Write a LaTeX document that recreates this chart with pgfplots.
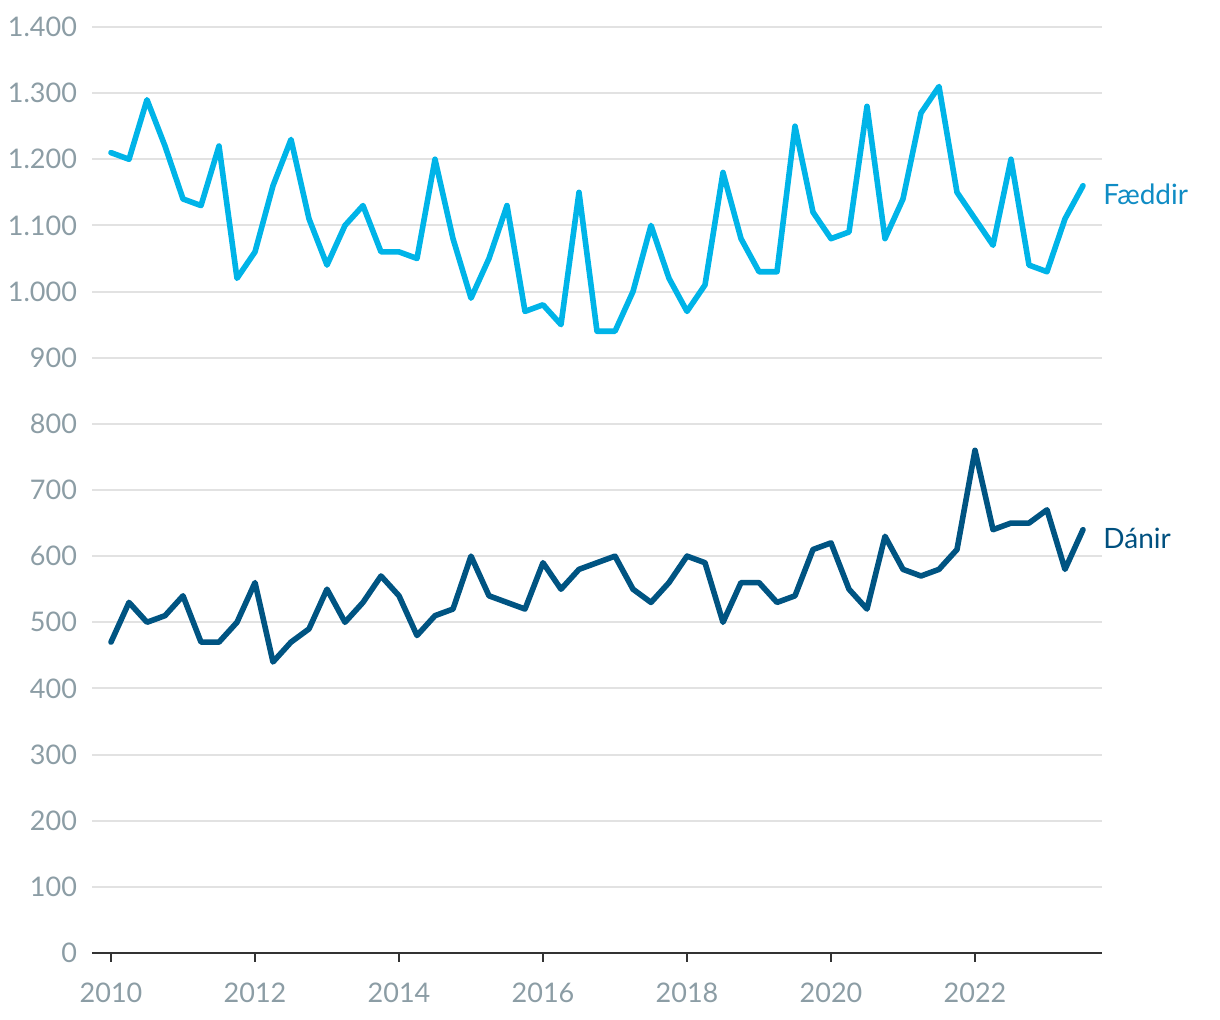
\documentclass[border=0pt]{standalone}
\usepackage{pgfplots}
\pgfplotsset{compat=1.18}
\usepackage{fontspec}
\setmainfont{Lato}
\definecolor{fcol}{HTML}{00B4E8}
\definecolor{flab}{HTML}{108CC4}
\definecolor{dcol}{HTML}{005482}
\definecolor{dlab}{HTML}{00507F}
\definecolor{tick}{HTML}{8C9DA5}
\definecolor{gridc}{HTML}{E2E2E2}
\begin{document}
\begin{tikzpicture}
\useasboundingbox (-46pt,-33.5pt) rectangle (564pt,476.5pt);
\begin{axis}[
  scale only axis, width=505pt, height=463pt,
  xmin=2009.736, xmax=2023.764, ymin=0, ymax=1400,
  axis x line*=bottom, axis y line*=left,
  y axis line style={draw=none},
  x axis line style={draw=black!80, line width=1pt},
  xtick={2010,2012,...,2022},
  xticklabels={2010,2012,2014,2016,2018,2020,2022},
  ytick={0,100,...,1400},
  ymajorgrids, grid style={gridc, line width=1pt},
  major tick length=4.5pt,
  tick align=outside,
  x tick style={draw=black!80, line width=1pt},
  y tick style={draw=none},
  xtick pos=bottom, ytick pos=left,
  ticklabel style={font=\fontsize{13.5}{15}\selectfont, text=tick},
  /pgf/number format/assume math mode=true,
  y tick label style={/pgf/number format/1000 sep={.}, xshift=0.5pt},
  x tick label style={yshift=-7pt},
  clip=false,
]
\addplot[fcol, line width=2.8pt, line join=round, line cap=round] table[x expr=2010+\coordindex*0.25, y index=0] {
1210
1200
1290
1220
1140
1130
1220
1020
1060
1160
1230
1110
1040
1100
1130
1060
1060
1050
1200
1080
990
1050
1130
970
980
950
1150
940
940
1000
1100
1020
970
1010
1180
1080
1030
1030
1250
1120
1080
1090
1280
1080
1140
1270
1310
1150
1110
1070
1200
1040
1030
1110
1160
};
\addplot[dcol, line width=2.8pt, line join=round, line cap=round] table[x expr=2010+\coordindex*0.25, y index=0] {
470
530
500
510
540
470
470
500
560
440
470
490
550
500
530
570
540
480
510
520
600
540
530
520
590
550
580
590
600
550
530
560
600
590
500
560
560
530
540
610
620
550
520
630
580
570
580
610
760
640
650
650
670
580
640
};
\node[anchor=west, text=flab, font=\fontsize{14}{16}\selectfont, inner sep=0pt] at (axis cs:2023.5,1160) [xshift=10pt, yshift=-4.5pt] {Fæddir};
\node[anchor=west, text=dlab, font=\fontsize{14}{16}\selectfont, inner sep=0pt] at (axis cs:2023.5,640) [xshift=10pt, yshift=-4.5pt] {Dánir};
\end{axis}
\end{tikzpicture}
\end{document}
